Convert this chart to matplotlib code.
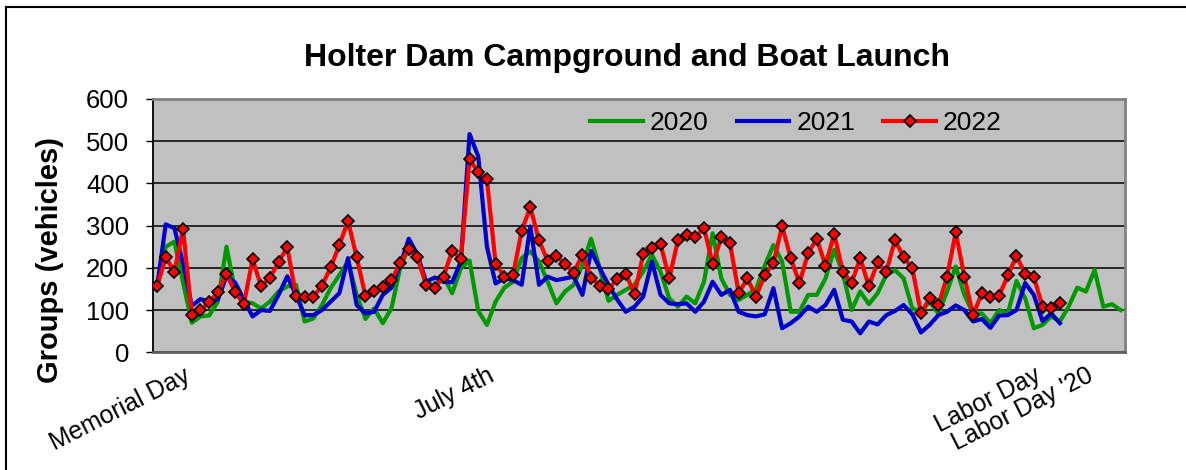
import matplotlib
matplotlib.use("Agg")
import matplotlib.pyplot as plt
from matplotlib.lines import Line2D

# valores (grupos/dia), dia 0 = 26 de maio
v2020 = [155, 250, 262, 165, 70, 85, 87, 120, 250, 144, 120, 116, 104, 120, 144, 156, 160, 73,
         80, 112, 152, 183, 215, 136, 79, 104, 69, 104, 199, 250, 223, 164, 156, 179, 140, 199, 217,
         98, 65, 120, 153, 167, 223, 239, 215, 167, 116, 144, 160, 207, 269, 199, 122, 136,
         148, 160, 191, 231, 191, 128, 108, 132, 116, 167, 282, 175, 136, 124, 136, 150, 205,
         254, 215, 96, 96, 136, 136, 175, 243, 187, 100, 144, 114, 140, 183, 195, 175, 104, 96,
         120, 92, 144, 203, 136, 92, 92, 69, 100, 92, 169, 128, 57, 65, 85, 73, 108, 153, 144, 195,
         108, 114, 100]
v2021 = [155, 303, 294, 210, 110, 126, 120, 125, 180, 165, 125, 85, 100, 98, 136, 180, 136, 88,
         88, 100, 120, 140, 223, 112, 92, 96, 136, 153, 207, 269, 231, 167, 177, 167, 166, 215, 517,
         464, 250, 163, 175, 171, 160, 298, 160, 179, 171, 175, 179, 136, 240, 199, 160, 125,
         96, 108, 132, 215, 136, 116, 114, 116, 96, 120, 167, 136, 148, 96, 88, 85, 90,
         152, 57, 69, 85, 108, 96, 112, 148, 77, 73, 45, 73, 66, 88, 98, 112, 90, 47,
         65, 88, 96, 111, 100, 73, 79, 58, 87, 88, 100, 164, 136, 74, 92, 69]
v2022 = [156, 225, 191, 292, 88, 100, 118, 142, 186, 142, 114, 220, 156, 177, 213, 250, 134, 131,
         131, 158, 201, 254, 311, 225, 134, 145, 154, 171, 211, 245, 225, 160, 153, 179, 241, 221, 457,
         427, 410, 210, 179, 182, 288, 344, 265, 216, 229, 209, 189, 231, 177, 158, 149, 174,
         186, 137, 232, 246, 256, 175, 265, 277, 272, 295, 209, 272, 258, 140, 175, 132, 183,
         211, 299, 223, 164, 235, 269, 205, 281, 191, 164, 223, 156, 213, 190, 266, 225, 199, 92,
         128, 111, 179, 284, 179, 88, 140, 132, 134, 182, 228, 186, 179, 108, 106, 116]

tick_pos = [3, 38, 101, 107]
tick_txt = ["Memorial Day", "July 4th", "Labor Day", "Labor Day '20"]

plt.rcParams["font.family"] = ["Liberation Sans", "DejaVu Sans"]

fig = plt.figure(figsize=(11.86, 4.70), dpi=100)
ax = fig.add_axes([152.7 / 1186, 1 - 352.3 / 470, 972.3 / 1186, 253.3 / 470])
ax.set_facecolor("#c0c0c0")

ax.plot(range(len(v2020)), v2020, color="#009900", lw=3, label="2020", zorder=3)
ax.plot(range(len(v2021)), v2021, color="#0000cc", lw=3, label="2021", zorder=4)
ax.plot(range(len(v2022)), v2022, color="#ff0000", lw=3, label="2022", zorder=5,
        marker="D", ms=6.5, mfc="#ff0000", mec="black", mew=1.2)

ax.set_xlim(-0.5, len(v2020) - 0.5)
ax.set_ylim(0, 600)
ax.set_yticks(range(0, 601, 100))
ax.grid(axis="y", color="black", lw=1.1, zorder=1)
ax.set_axisbelow(True)
ax.tick_params(axis="y", labelsize=18.5, length=5, width=1, pad=12)
ax.set_xticks(tick_pos)
ax.set_xticklabels(tick_txt, rotation=27, ha="right", va="top", rotation_mode="anchor", fontsize=18)
ax.tick_params(axis="x", length=0, pad=8)

for s in ["top", "right"]:
    ax.spines[s].set_color("#808080")
    ax.spines[s].set_linewidth(2)
ax.spines["left"].set_color("black")
ax.spines["left"].set_linewidth(1.3)
ax.spines["bottom"].set_color("#606060")
ax.spines["bottom"].set_linewidth(2)

ax.set_ylabel("Groups (vehicles)", fontsize=21, fontweight="bold")
ax.yaxis.set_label_coords(-0.091, 0.364)
fig.text(627 / 1186, 1 - 58 / 470, "Holter Dam Campground and Boat Launch",
         fontsize=23, fontweight="bold", ha="center", va="center")

ax.legend(ncol=3, loc="center", bbox_to_anchor=(0.6616, 0.905), frameon=False, fontsize=19,
          handlelength=2.0, handletextpad=0.27, columnspacing=1.06)

# moldura da figura (so topo e esquerda aparecem)
fig.add_artist(Line2D([6 / 1186, 1], [1 - 7 / 470] * 2, color="black", lw=1.5))
fig.add_artist(Line2D([6 / 1186] * 2, [0, 1 - 7 / 470], color="black", lw=1.5))

plt.savefig("out.png", dpi=100)
